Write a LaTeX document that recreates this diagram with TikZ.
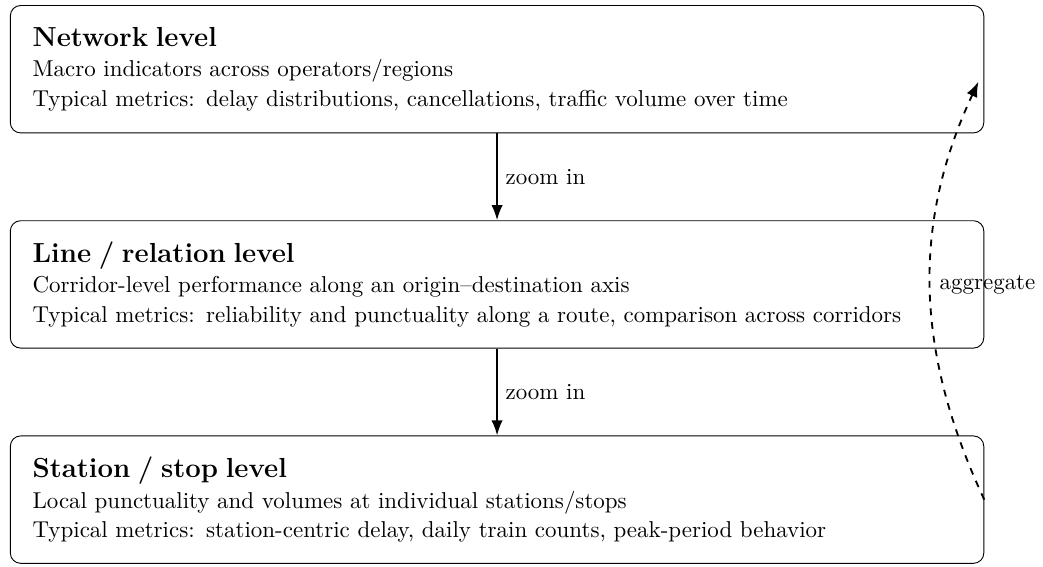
\documentclass[tikz,border=0pt]{standalone}
\usepackage{tikz}
\usetikzlibrary{calc,positioning,arrows.meta}

\tikzset{
  levelbox/.style={
    draw,
    rounded corners=4.5pt,
    minimum width=14.9cm,
    minimum height=1.95cm,
    text width=14.22cm,
    align=left,
    inner sep=0pt
  },
  zoomarrow/.style={-{Latex},thick},
  aggarrow/.style={-{Latex},thick,dashed}
}

\begin{document}
\begin{tikzpicture}[node distance=1.33cm]
    \node[levelbox] (net) {{\large\bfseries Network level}\\[1.4pt]
      Macro indicators across operators/regions\\[1pt]
      Typical metrics: delay distributions, cancellations, traffic volume over time};

    \node[levelbox, below=of net] (line) {{\large\bfseries Line / relation level}\\[1.4pt]
      Corridor-level performance along an origin--destination axis\\[1pt]
      Typical metrics: reliability and punctuality along a route, comparison across corridors};

    \node[levelbox, below=of line] (stat) {{\large\bfseries Station / stop level}\\[1.4pt]
      Local punctuality and volumes at individual stations/stops\\[1pt]
      Typical metrics: station-centric delay, daily train counts, peak-period behavior};

    \draw[zoomarrow] (net.south) -- node[right] {zoom in} (line.north);
    \draw[zoomarrow] (line.south) -- node[right] {zoom in} (stat.north);

    \draw[aggarrow, shorten >=6pt] (stat.east) to[bend left=25] node[midway, right] {aggregate} (net.east);

    \useasboundingbox ($(net.north west)+(-4.3pt,2.2pt)$) rectangle ($(stat.south east)+(24.7pt,-1.3pt)$);
  \end{tikzpicture}
\end{document}
